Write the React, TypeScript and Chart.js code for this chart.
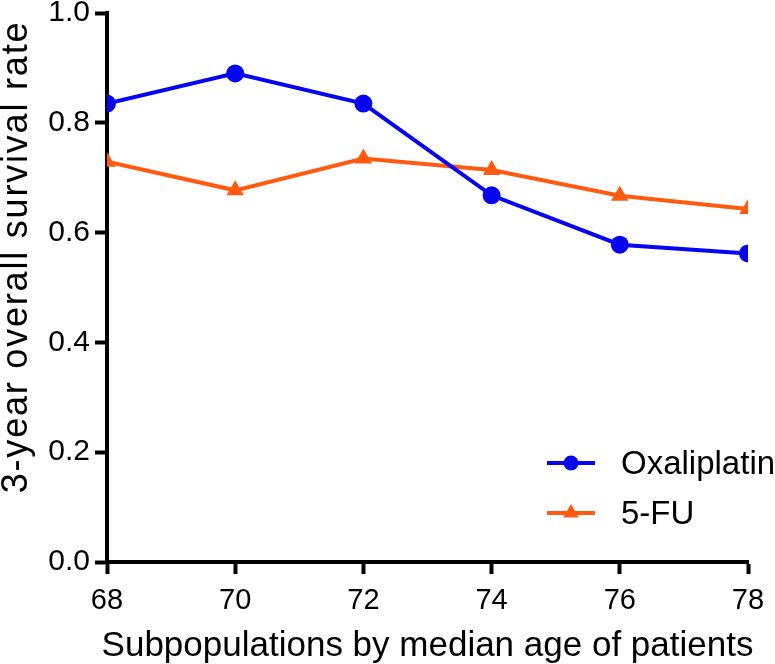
import React, { useEffect, useRef } from "react";
import { Chart, registerables } from "chart.js";

Chart.register(...registerables);

const ages = [68, 70, 72, 74, 76, 78];
const oxaliplatin = [0.835, 0.89, 0.835, 0.668, 0.578, 0.562];
const fiveFU = [0.729, 0.677, 0.735, 0.714, 0.667, 0.643];
const xTickValues = [68, 70, 72, 74, 76, 78];
const yTickValues = [0, 0.2, 0.4, 0.6, 0.8, 1.0];
const seriesNames = ["Oxaliplatin", "5-FU"];
const xTitle = "Subpopulations by median age of patients";
const yTitle = "3-year overall survival rate";

const BLUE = "#0505F0";
const ORANGE = "#FF5A0F";
const FONT = "'Liberation Sans', Arial, sans-serif";

function drawMarker(ctx: CanvasRenderingContext2D, style: string, x: number, y: number, r: number, color: string) {
  ctx.save();
  ctx.fillStyle = color;
  ctx.beginPath();
  if (style === "circle") {
    ctx.arc(x, y, r, 0, Math.PI * 2);
  } else {
    ctx.moveTo(x, y - r);
    ctx.lineTo(x + r * Math.sin((2 * Math.PI) / 3), y - r * Math.cos((2 * Math.PI) / 3));
    ctx.lineTo(x + r * Math.sin((4 * Math.PI) / 3), y - r * Math.cos((4 * Math.PI) / 3));
    ctx.closePath();
  }
  ctx.fill();
  ctx.restore();
}

const overlayPlugin = {
  id: "overlay",
  afterDraw(chart: any) {
    const ctx: CanvasRenderingContext2D = chart.ctx;
    const area = chart.chartArea;
    ctx.save();
    ctx.fillStyle = "#000";
    // X title
    ctx.font = `35px ${FONT}`;
    ctx.textAlign = "center";
    ctx.textBaseline = "alphabetic";
    ctx.fillText(xTitle, (area.left + area.right) / 2, 656);
    // Y title
    ctx.save();
    ctx.translate(27, 257);
    ctx.rotate(-Math.PI / 2);
    ctx.font = `36px ${FONT}`;
    (ctx as any).letterSpacing = "1.8px";
    ctx.textAlign = "center";
    ctx.textBaseline = "alphabetic";
    ctx.fillText(yTitle, 0, 0);
    ctx.restore();
    // Legend
    const colors = [BLUE, ORANGE];
    const styles = ["circle", "triangle"];
    const radii = [7.5, 9];
    const rows = [463, 513];
    ctx.font = `33px ${FONT}`;
    ctx.textAlign = "left";
    ctx.textBaseline = "alphabetic";
    seriesNames.forEach((name, i) => {
      const y = rows[i];
      ctx.strokeStyle = colors[i];
      ctx.lineWidth = 4;
      ctx.beginPath();
      ctx.moveTo(547, y);
      ctx.lineTo(595, y);
      ctx.stroke();
      drawMarker(ctx, styles[i], 571, y, radii[i], colors[i]);
      ctx.fillStyle = "#000";
      ctx.fillText(name, 621, y + 11);
    });
    ctx.restore();
  },
};

export default function App() {
  const ref = useRef<HTMLCanvasElement>(null);

  useEffect(() => {
    if (!ref.current) return;
    const chart = new Chart(ref.current, {
      type: "line",
      data: {
        datasets: [
          {
            label: seriesNames[0],
            data: ages.map((a, i) => ({ x: a, y: oxaliplatin[i] })),
            borderColor: BLUE,
            backgroundColor: BLUE,
            borderWidth: 4,
            pointStyle: "circle",
            pointRadius: 9,
            pointBorderWidth: 0,
            tension: 0,
          },
          {
            label: seriesNames[1],
            data: ages.map((a, i) => ({ x: a, y: fiveFU[i] })),
            borderColor: ORANGE,
            backgroundColor: ORANGE,
            borderWidth: 4,
            pointStyle: "triangle",
            pointRadius: 10,
            pointBorderWidth: 0,
            tension: 0,
          },
        ],
      },
      options: {
        animation: false,
        responsive: false,
        maintainAspectRatio: false,
        layout: { padding: { top: 13, right: 27, left: 0, bottom: 0 } },
        plugins: {
          legend: { display: false },
          tooltip: { enabled: false },
        },
        scales: {
          x: {
            type: "linear",
            min: 68,
            max: 78,
            afterBuildTicks: (scale: any) => {
              scale.ticks = xTickValues.map((v) => ({ value: v }));
            },
            afterFit: (scale: any) => {
              scale.height = 102;
              scale.paddingLeft = 0;
              scale.paddingRight = 0;
            },
            border: { display: true, color: "#000", width: 4 },
            grid: {
              display: true,
              drawOnChartArea: false,
              drawTicks: true,
              tickLength: 12,
              tickWidth: 4,
              tickColor: "#000",
              color: "#000",
            },
            ticks: {
              color: "#000",
              font: { family: FONT, size: 29 },
              padding: 10,
              maxRotation: 0,
              callback: (v: any) => String(v),
            },
          },
          y: {
            type: "linear",
            min: 0,
            max: 1,
            afterBuildTicks: (scale: any) => {
              scale.ticks = yTickValues.map((v) => ({ value: v }));
            },
            afterFit: (scale: any) => {
              scale.width = 107;
              scale.paddingTop = 0;
              scale.paddingBottom = 0;
            },
            border: { display: true, color: "#000", width: 4 },
            grid: {
              display: true,
              drawOnChartArea: false,
              drawTicks: true,
              tickLength: 12,
              tickWidth: 4,
              tickColor: "#000",
              color: "#000",
            },
            ticks: {
              color: "#000",
              font: { family: FONT, size: 30 },
              padding: 5,
              callback: (v: any) => Number(v).toFixed(1),
            },
          },
        },
      },
      plugins: [overlayPlugin],
    });
    return () => chart.destroy();
  }, []);

  return (
    <div style={{ position: "fixed", left: 0, top: 0, width: 775, height: 664, background: "#fff" }}>
      <canvas ref={ref} width={775} height={664} style={{ display: "block" }} />
    </div>
  );
}
